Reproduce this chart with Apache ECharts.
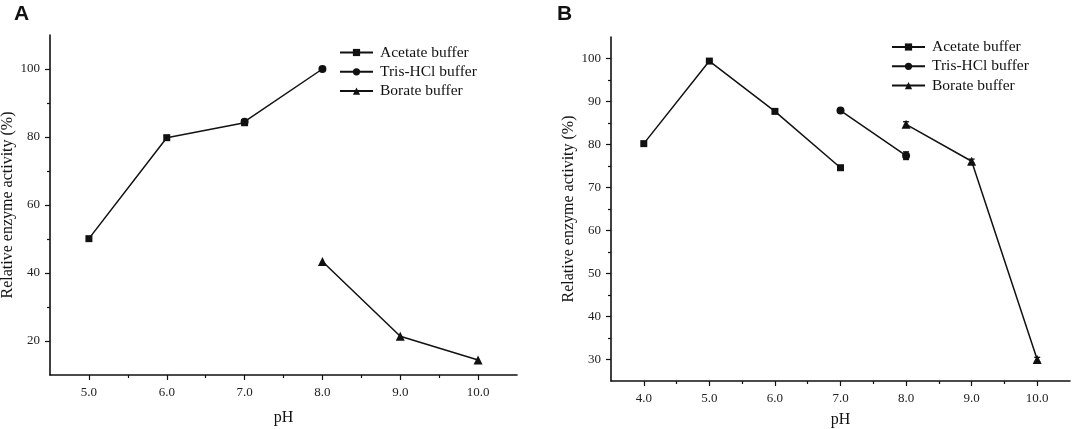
<!DOCTYPE html>
<html>
<head>
<meta charset="utf-8">
<script src="https://cdn.jsdelivr.net/npm/echarts@6/dist/echarts.min.js"></script>
<style>
  html, body { margin: 0; padding: 0; background: #fff; }
  #chart { width: 1072px; height: 429px; }
</style>
</head>
<body>
<div id="chart"></div>
<script>
// Panel A data
const phA_acetate = [5, 6, 7];
const valA_acetate = [50.1, 79.8, 84.2];
const phA_tris = [7, 8];
const valA_tris = [84.5, 100.0];
const errA_tris = [0.5, 0.5];
const phA_borate = [8, 9, 10];
const valA_borate = [43.4, 21.4, 14.4];

// Panel B data
const phB_acetate = [4, 5, 6, 7];
const valB_acetate = [80.2, 99.4, 87.7, 74.6];
const phB_tris = [7, 8];
const valB_tris = [87.9, 77.4];
const errB_tris = [0.3, 0.9];
const phB_borate = [8, 9, 10];
const valB_borate = [84.7, 76.1, 30.0];
const errB_borate = [0.6, 0.5, 0.5];

// Tick labels
const ticksA_x = [5, 6, 7, 8, 9, 10];
const minorA_x = [5.5, 6.5, 7.5, 8.5, 9.5];
const ticksA_y = [20, 40, 60, 80, 100];
const minorA_y = [30, 50, 70, 90];
const ticksB_x = [4, 5, 6, 7, 8, 9, 10];
const minorB_x = [4.5, 5.5, 6.5, 7.5, 8.5, 9.5];
const ticksB_y = [30, 40, 50, 60, 70, 80, 90, 100];
const minorB_y = [35, 45, 55, 65, 75, 85, 95];

const names = ['Acetate buffer', 'Tris-HCl buffer', 'Borate buffer'];
const serif = 'Liberation Serif';
const ink = '#111';

var chartDom = document.getElementById('chart');
var myChart = echarts.init(chartDom);

function pairs(xs, ys) {
  return xs.map((x, i) => [x, ys[i]]);
}
function triples(xs, ys, es) {
  return xs.map((x, i) => [x, ys[i], es[i]]);
}

function majorX(grid, min, max, ticks, name, gap) {
  return {
    type: 'value', gridIndex: grid, min: min, max: max, position: 'bottom',
    name: name, nameLocation: 'middle', nameGap: gap,
    nameTextStyle: { fontFamily: serif, fontSize: 16, color: ink },
    axisLine: { lineStyle: { color: ink, width: 1.6 } },
    axisTick: { customValues: ticks, length: 5, lineStyle: { color: ink, width: 1.2 } },
    axisLabel: {
      customValues: ticks, margin: 11, fontFamily: serif, fontSize: 13, color: '#222',
      formatter: (v) => v.toFixed(1),
    },
    splitLine: { show: false },
  };
}
function minorX(grid, min, max, ticks) {
  return {
    type: 'value', gridIndex: grid, min: min, max: max, position: 'bottom',
    axisLine: { show: false },
    axisTick: { customValues: ticks, length: 3, lineStyle: { color: ink, width: 1.2 } },
    axisLabel: { show: false },
    splitLine: { show: false },
  };
}
function majorY(grid, min, max, ticks) {
  return {
    type: 'value', gridIndex: grid, min: min, max: max, position: 'left',
    name: 'Relative enzyme activity (%)', nameLocation: 'middle', nameGap: 34,
    nameTextStyle: { fontFamily: serif, fontSize: 16, color: ink },
    axisLine: { show: true, lineStyle: { color: ink, width: 1.6 } },
    axisTick: { show: true, customValues: ticks, length: 5, lineStyle: { color: ink, width: 1.2 } },
    axisLabel: { customValues: ticks, margin: 10, fontFamily: serif, fontSize: 13, color: '#222' },
    splitLine: { show: false },
  };
}
function minorY(grid, min, max, ticks) {
  return {
    type: 'value', gridIndex: grid, min: min, max: max, position: 'left',
    axisLine: { show: false },
    axisTick: { show: true, customValues: ticks, length: 3, lineStyle: { color: ink, width: 1.2 } },
    axisLabel: { show: false },
    splitLine: { show: false },
  };
}

function lineSeries(name, axis, data, symbol, size) {
  return {
    name: name, type: 'line', xAxisIndex: axis, yAxisIndex: axis,
    data: data, symbol: symbol, symbolSize: size,
    lineStyle: { color: ink, width: 1.5 },
    itemStyle: { color: ink },
    z: 3,
  };
}

function errorSeries(axis, data) {
  return {
    type: 'custom', xAxisIndex: axis, yAxisIndex: axis, data: data, z: 4,
    renderItem: function (params, api) {
      const x = api.value(0), y = api.value(1), e = api.value(2);
      const lo = api.coord([x, y - e]);
      const hi = api.coord([x, y + e]);
      const w = 3;
      const style = { stroke: ink, lineWidth: 1.3 };
      return {
        type: 'group',
        children: [
          { type: 'line', shape: { x1: lo[0], y1: lo[1], x2: hi[0], y2: hi[1] }, style: style },
          { type: 'line', shape: { x1: lo[0] - w, y1: lo[1], x2: lo[0] + w, y2: lo[1] }, style: style },
          { type: 'line', shape: { x1: hi[0] - w, y1: hi[1], x2: hi[0] + w, y2: hi[1] }, style: style },
        ],
      };
    },
  };
}

function legend(left, top) {
  return {
    orient: 'vertical', left: left, top: top,
    data: names, itemWidth: 33, itemHeight: 9, itemGap: 3.3,
    selectedMode: false,
    textStyle: { fontFamily: serif, fontSize: 15.5, color: ink, lineHeight: 16, padding: [0, 0, 0, 2] },
  };
}

var option = {
  animation: false,
  backgroundColor: '#fff',
  title: [
    { text: 'A', left: 9, top: -1, textStyle: { fontFamily: 'Liberation Sans', fontWeight: 'bold', fontSize: 21, color: ink } },
    { text: 'B', left: 552, top: -1, textStyle: { fontFamily: 'Liberation Sans', fontWeight: 'bold', fontSize: 21, color: ink } },
  ],
  legend: [legend(334, 39.5), legend(886, 34)],
  grid: [
    { left: 50, top: 35, width: 467, height: 340, outerBoundsMode: 'none' },
    { left: 611, top: 37, width: 459, height: 344, outerBoundsMode: 'none' },
  ],
  xAxis: [
    majorX(0, 4.5, 10.5, ticksA_x, 'pH', 35),
    minorX(0, 4.5, 10.5, minorA_x),
    majorX(1, 3.5, 10.5, ticksB_x, 'pH', 31),
    minorX(1, 3.5, 10.5, minorB_x),
  ],
  yAxis: [
    majorY(0, 10, 110, ticksA_y),
    minorY(0, 10, 110, minorA_y),
    majorY(1, 25, 105, ticksB_y),
    minorY(1, 25, 105, minorB_y),
  ],
  series: [
    lineSeries(names[0], 0, pairs(phA_acetate, valA_acetate), 'rect', 7),
    lineSeries(names[1], 0, pairs(phA_tris, valA_tris), 'circle', 8),
    lineSeries(names[2], 0, pairs(phA_borate, valA_borate), 'triangle', 9),
    errorSeries(0, triples(phA_tris, valA_tris, errA_tris)),
    lineSeries(names[0], 2, pairs(phB_acetate, valB_acetate), 'rect', 7),
    lineSeries(names[1], 2, pairs(phB_tris, valB_tris), 'circle', 8),
    lineSeries(names[2], 2, pairs(phB_borate, valB_borate), 'triangle', 9),
    errorSeries(2, triples(phB_tris, valB_tris, errB_tris)),
    errorSeries(2, triples(phB_borate, valB_borate, errB_borate)),
  ],
};

option && myChart.setOption(option);
</script>
</body>
</html>
